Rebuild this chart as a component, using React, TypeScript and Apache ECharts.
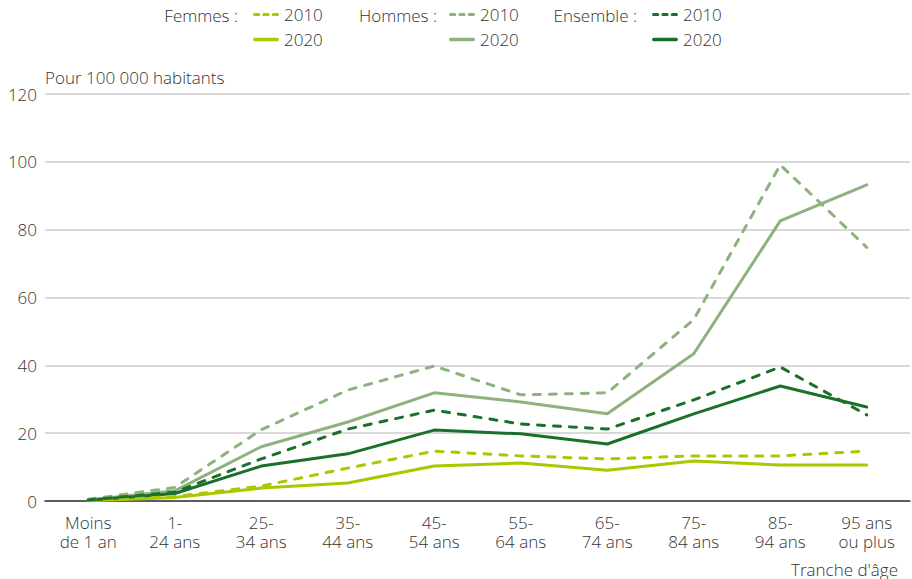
import React, { useEffect, useRef } from "react";
import * as echarts from "echarts";

const categories = [
  "Moins\nde 1 an",
  "1-\n24 ans",
  "25-\n34 ans",
  "35-\n44 ans",
  "45-\n54 ans",
  "55-\n64 ans",
  "65-\n74 ans",
  "75-\n84 ans",
  "85-\n94 ans",
  "95 ans\nou plus",
];

const femmes2010 = [0.2, 1.3, 4.4, 9.7, 14.7, 13.3, 12.4, 13.3, 13.3, 14.7];
const femmes2020 = [0.1, 1.0, 3.8, 5.3, 10.3, 11.2, 9.1, 11.8, 10.6, 10.6];
const hommes2010 = [0.5, 4.0, 21.0, 32.7, 39.8, 31.3, 31.9, 53.5, 99.1, 74.8];
const hommes2020 = [0.3, 3.0, 16.0, 23.3, 31.9, 29.2, 25.7, 43.4, 82.6, 93.2];
const ensemble2010 = [0.3, 2.6, 12.4, 21.2, 26.8, 22.7, 21.2, 29.8, 39.5, 25.4];
const ensemble2020 = [0.2, 2.2, 10.3, 13.9, 20.9, 19.8, 16.8, 25.7, 33.9, 27.7];

const yTicks = [0, 20, 40, 60, 80, 100, 120];

const C_F = "#a9c800";
const C_H = "#8db27f";
const C_E = "#1b7029";
const FONT = "Open Sans";
const FS = 17;
const FW = 300;
const TXT = "#333333";

const ICON_DASH = "path://M1.5,0h4a1.5,1.5 0 0 1 0,3h-4a1.5,1.5 0 0 1 0,-3z M10.5,0h4a1.5,1.5 0 0 1 0,3h-4a1.5,1.5 0 0 1 0,-3z M19.5,0h4a1.5,1.5 0 0 1 0,3h-4a1.5,1.5 0 0 1 0,-3z";
const ICON_SOLID = "path://M1.5,0h23a1.5,1.5 0 0 1 0,3.6h-23a1.5,1.5 0 0 1 0,-3.6z";

export default function App() {
  const ref = useRef<HTMLDivElement>(null);
  useEffect(() => {
    if (!ref.current) return;
    const chart = echarts.init(ref.current, undefined, { renderer: "svg" });
    const mk = (name: string, data: number[], color: string, dashed: boolean) => ({
      name,
      type: "line",
      data,
      symbol: "none",
      showSymbol: false,
      lineStyle: {
        color,
        width: 3,
        type: dashed ? [7, 9] : "solid",
        cap: "round",
      },
      itemStyle: { color },
      z: dashed ? 3 : 2,
    });
    const series = [
      mk("F2010", femmes2010, C_F, true),
      mk("F2020", femmes2020, C_F, false),
      mk("H2010", hommes2010, C_H, true),
      mk("H2020", hommes2020, C_H, false),
      mk("E2010", ensemble2010, C_E, true),
      mk("E2020", ensemble2020, C_E, false),
    ];
    const legendAt = (name: string, left: number, top: number, color: string, dashed: boolean) => ({
      data: [{ name, icon: dashed ? ICON_DASH : ICON_SOLID, itemStyle: { color, borderWidth: 0 } }],
      left,
      top,
      itemWidth: 26,
      itemHeight: 4,
      itemStyle: { borderWidth: 0 },
      padding: 0,
      formatter: (n: string) => n.slice(1),
      textStyle: { fontFamily: FONT, fontSize: FS, fontWeight: FW, color: TXT },
    });
    const labelText = (text: string, x: number, y: number) => ({
      type: "text",
      x,
      y,
      style: {
        text,
        fontFamily: FONT,
        fontSize: FS,
        fontWeight: FW,
        fill: TXT,
        align: "right",
        verticalAlign: "middle",
      },
    });
    chart.setOption({
      animation: false,
      backgroundColor: "#ffffff",
      grid: { left: 45, right: 2, top: 94, bottom: 78 },
      legend: [
        legendAt("F2010", 253, 6, C_F, true),
        legendAt("F2020", 253, 31, C_F, false),
        legendAt("H2010", 449, 6, C_H, true),
        legendAt("H2020", 449, 31, C_H, false),
        legendAt("E2010", 652, 6, C_E, true),
        legendAt("E2020", 652, 31, C_E, false),
      ],
      graphic: [
        labelText("Femmes :", 238, 15),
        labelText("Hommes :", 437, 15),
        labelText("Ensemble :", 637, 15),
        {
          type: "text",
          x: 45,
          y: 77,
          style: {
            text: "Pour 100 000 habitants",
            fontFamily: FONT,
            fontSize: FS,
            fontWeight: FW,
            fill: TXT,
            align: "left",
            verticalAlign: "middle",
          },
        },
        {
          type: "text",
          x: 898,
          y: 569,
          style: {
            text: "Tranche d'âge",
            fontFamily: FONT,
            fontSize: FS,
            fontWeight: FW,
            fill: TXT,
            align: "right",
            verticalAlign: "middle",
          },
        },
      ],
      xAxis: {
        type: "category",
        data: categories,
        boundaryGap: true,
        axisLine: { lineStyle: { color: TXT, width: 1.5 } },
        axisTick: { alignWithLabel: true, length: 6, lineStyle: { color: TXT, width: 1.5 } },
        axisLabel: {
          interval: 0,
          fontFamily: FONT,
          fontSize: FS,
          fontWeight: FW,
          color: TXT,
          lineHeight: 19,
          margin: 12,
        },
      },
      yAxis: {
        type: "value",
        min: yTicks[0],
        max: yTicks[yTicks.length - 1],
        interval: 20,
        axisLine: { show: false },
        axisTick: { show: false },
        axisLabel: { fontFamily: FONT, fontSize: FS, fontWeight: FW, color: TXT, margin: 8 },
        splitLine: { lineStyle: { color: "#cccccc", width: 1.5 } },
      },
      series,
    });
    return () => chart.dispose();
  }, []);
  return (
    <div
      ref={ref}
      style={{ position: "absolute", left: 0, top: 0, width: 912, height: 579 }}
    />
  );
}
